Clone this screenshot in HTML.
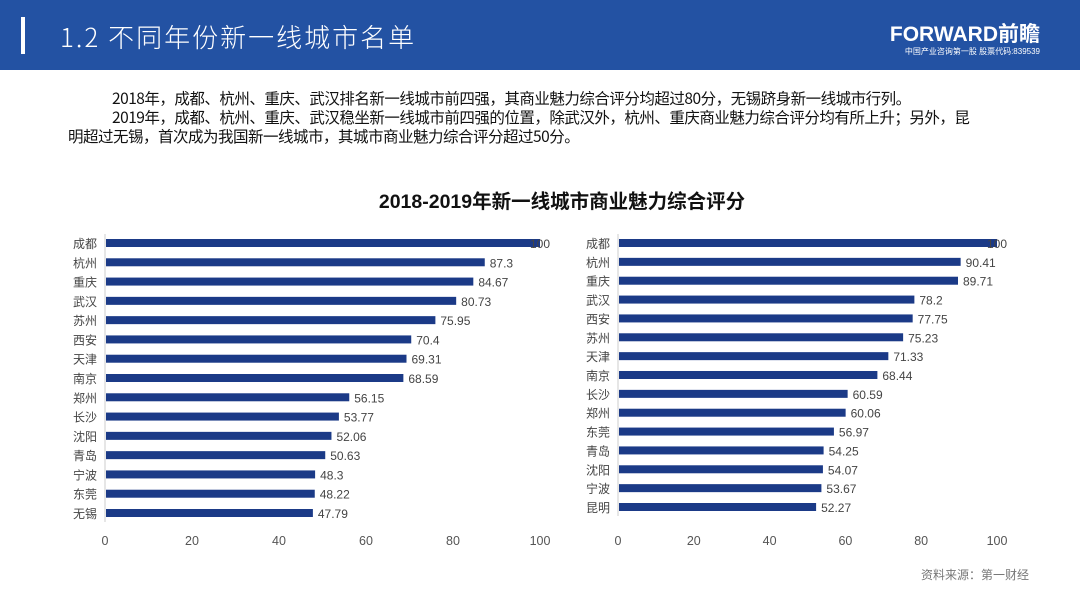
<!DOCTYPE html>
<html><head><meta charset="utf-8"><style>
body{margin:0;width:1080px;height:608px;background:#fff;overflow:hidden;position:relative;font-family:"Liberation Sans","Noto Sans CJK SC",sans-serif}
#hdr{position:absolute;left:0;top:0;width:1080px;height:70px;background:#2352a3}
#bar{position:absolute;left:21px;top:17px;width:4px;height:37px;background:#fff}
#title{position:absolute;left:60px;top:18px;color:#fff;font-size:26px;letter-spacing:2px;font-family:"Noto Sans CJK SC",sans-serif;font-weight:300}
#logo{position:absolute;right:40px;top:18px;color:#fff;font-size:21px;font-weight:bold;letter-spacing:0px}
#logosub{position:absolute;right:40px;top:46px;color:#fff;font-size:8px}
.p{position:absolute;font-size:15.5px;line-height:19px;color:#111;font-family:"Noto Sans CJK SC",sans-serif;white-space:nowrap}
#ct{position:absolute;left:0;width:1124px;top:185px;text-align:center;font-size:19.5px;font-weight:bold;color:#111}
#src{position:absolute;left:921px;top:566px;font-size:12px;color:#777}
svg{position:absolute;left:0;top:0}
</style></head><body>
<div id="hdr"></div>
<div id="bar"></div>
<div id="title">1.2 不同年份新一线城市名单</div>
<div id="logo">FORWARD前瞻</div>
<div id="logosub">中国产业咨询第一股 股票代码:839539</div>
<div class="p" style="left:112px;top:89px;letter-spacing:-0.5px">2018年，成都、杭州、重庆、武汉排名新一线城市前四强，其商业魅力综合评分均超过80分，无锡跻身新一线城市行列。</div>
<div class="p" style="left:112px;top:108px;letter-spacing:-0.5px">2019年，成都、杭州、重庆、武汉稳坐新一线城市前四强的位置，除武汉外，杭州、重庆商业魅力综合评分均有所上升；另外，昆</div>
<div class="p" style="left:68px;top:127px;letter-spacing:-0.5px">明超过无锡，首次成为我国新一线城市，其城市商业魅力综合评分超过50分。</div>
<div id="ct">2018-2019年新一线城市商业魅力综合评分</div>
<div id="src">资料来源：第一财经</div>
<svg id="chart" width="1080" height="608"></svg>
<script>
const cities2018=["成都","杭州","重庆","武汉","苏州","西安","天津","南京","郑州","长沙","沈阳","青岛","宁波","东莞","无锡"];
const values2018=[100,87.3,84.67,80.73,75.95,70.4,69.31,68.59,56.15,53.77,52.06,50.63,48.3,48.22,47.79];
const cities2019=["成都","杭州","重庆","武汉","西安","苏州","天津","南京","长沙","郑州","东莞","青岛","沈阳","宁波","昆明"];
const values2019=[100,90.41,89.71,78.2,77.75,75.23,71.33,68.44,60.59,60.06,56.97,54.25,54.07,53.67,52.27];
const ticks=[0,20,40,60,80,100];
const svg=document.getElementById('chart');
const NS='http://www.w3.org/2000/svg';
function mk(t,a){const e=document.createElementNS(NS,t);for(const k in a)e.setAttribute(k,a[k]);svg.appendChild(e);return e;}
function draw(cities,vals,x0,x1,y0,y1,key){
  const sx=v=>x0+(x1-x0)*v/100;
  const step=(y1-y0)/(cities.length-1);
  const sy=i=>y0+i*step;
  const ax=mk('line',{x1:x0,x2:x0,y1:y0-9,y2:y1+9,stroke:'#ccc','stroke-width':1});
  
  
  cities.forEach((c,i)=>{
    const y=sy(i);
    const r=mk('rect',{x:x0+1,y:y-4,width:sx(vals[i])-x0-1,height:8,fill:'#1b3a87'});
    
    
    const t=mk('text',{x:x0-8,y:y+5,'text-anchor':'end','font-size':12,fill:'#444'});
    t.textContent=c;
    
    
    const v=mk('text',{x:sx(vals[i])-(vals[i]>=100?10:-5),y:y+5,'font-size':12,fill:'#444'});
    v.textContent=vals[i];
    
    
  });
  ticks.forEach(tk=>{
    const t=mk('text',{x:sx(tk),y:545,'text-anchor':'middle','font-size':12.5,fill:'#555'});
    t.textContent=tk;
    
    
  });
}
draw(cities2018,values2018,105,540,243,513,'chart-2018');
draw(cities2019,values2019,618,997,243,507,'chart-2019');
</script>
</body></html>
